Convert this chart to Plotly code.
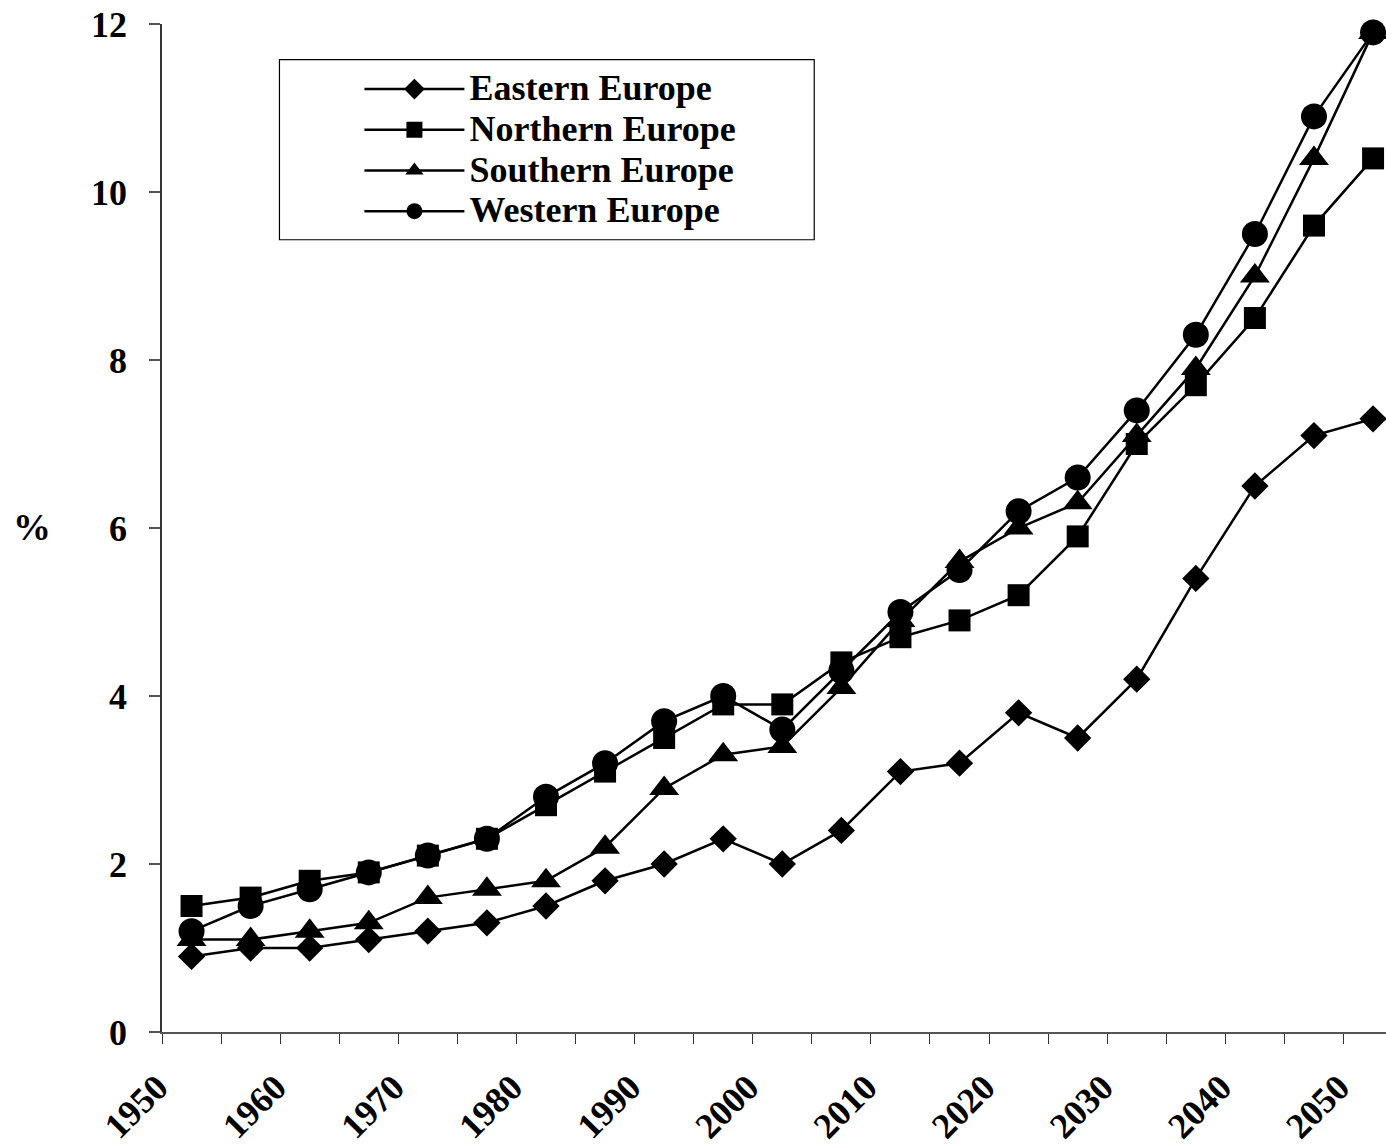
import plotly.graph_objects as go

# Share of population aged 80+ (%), five-year steps 1950-2050
years = [1950, 1955, 1960, 1965, 1970, 1975, 1980, 1985, 1990, 1995, 2000,
         2005, 2010, 2015, 2020, 2025, 2030, 2035, 2040, 2045, 2050]

eastern = [0.9, 1.0, 1.0, 1.1, 1.2, 1.3, 1.5, 1.8, 2.0, 2.3, 2.0,
           2.4, 3.1, 3.2, 3.8, 3.5, 4.2, 5.4, 6.5, 7.1, 7.3]
northern = [1.5, 1.6, 1.8, 1.9, 2.1, 2.3, 2.7, 3.1, 3.5, 3.9, 3.9,
            4.4, 4.7, 4.9, 5.2, 5.9, 7.0, 7.7, 8.5, 9.6, 10.4]
southern = [1.1, 1.1, 1.2, 1.3, 1.6, 1.7, 1.8, 2.2, 2.9, 3.3, 3.4,
            4.1, 4.9, 5.6, 6.0, 6.3, 7.1, 7.9, 9.0, 10.4, 11.9]
western = [1.2, 1.5, 1.7, 1.9, 2.1, 2.3, 2.8, 3.2, 3.7, 4.0, 3.6,
           4.3, 5.0, 5.5, 6.2, 6.6, 7.4, 8.3, 9.5, 10.9, 11.9]

tick_years = [1950, 1960, 1970, 1980, 1990, 2000, 2010, 2020, 2030, 2040, 2050]
y_ticks = [0, 2, 4, 6, 8, 10, 12]

series = [
    ("Eastern Europe", eastern, "diamond", 21),
    ("Northern Europe", northern, "square", 22),
    ("Southern Europe", southern, "triangle-up", 26),
    ("Western Europe", western, "circle", 26),
]

FONT = "Liberation Serif, Times New Roman, serif"

fig = go.Figure()
for name, vals, sym, size in series:
    fig.add_trace(go.Scatter(
        x=years, y=vals, mode="lines+markers",
        # larger label text inside a tighter legend row height
        name='<span style="font-size:36px">' + name + "</span>",
        line=dict(color="black", width=2.5),
        marker=dict(symbol=sym, size=size, color="black",
                    line=dict(width=0)),
        cliponaxis=False,
    ))

W, H = 1386, 1146
L, R, T, B = 161.5, 0, 24.3, 114.3
px_per_year = 59.1 / 5
x0 = 1947.5
x1 = x0 + (W - L - R) / px_per_year

fig.update_layout(
    width=W, height=H,
    margin=dict(l=L, r=R, t=T, b=B, pad=0, autoexpand=False),
    paper_bgcolor="white", plot_bgcolor="white",
    font=dict(family=FONT, color="black"),
    showlegend=True,
    legend=dict(
        x=(359 - L) / (W - L), xanchor="left",
        y=(1032 - 64) / (1032 - T), yanchor="top",
        bgcolor="rgba(0,0,0,0)", borderwidth=0,
        font=dict(family=FONT, size=29, color="black", weight="bold"),
        itemwidth=100, tracegroupgap=0,
    ),
    xaxis=dict(
        range=[x0, x1], automargin=False,
        showgrid=False, zeroline=False,
        showline=True, linecolor="#555", linewidth=1.5,
        tickmode="array", tickvals=tick_years,
        ticktext=[str(t) for t in tick_years],
        ticks="", tickangle=-45,
        tickfont=dict(family=FONT, size=36, weight="bold"),
        ticklabelstandoff=18, ticklabelshift=-34,
        ticklabeloverflow="allow",
        minor=dict(ticks="outside", tick0=1947.5, dtick=5, ticklen=10,
                   tickcolor="#333", tickwidth=1),
    ),
    yaxis=dict(
        range=[0, 12], automargin=False,
        showgrid=False, zeroline=False,
        showline=True, linecolor="#333", linewidth=1.5,
        tickmode="array", tickvals=y_ticks,
        ticks="outside", ticklen=11, tickcolor="#555", tickwidth=1.5,
        tickfont=dict(family=FONT, size=36, weight="bold"),
        ticklabelstandoff=15,
    ),
    annotations=[dict(
        text="<b>%</b>", xref="paper", yref="paper",
        x=-(161.5 - 31) / (W - L), y=0.501, xanchor="center", yanchor="middle",
        showarrow=False, font=dict(family=FONT, size=38, color="black"),
    )],
    shapes=[dict(
        type="rect", xref="paper", yref="paper", layer="below",
        x0=(279 - L) / (W - L), x1=(814 - L) / (W - L),
        y0=(1032 - 240) / (1032 - T), y1=(1032 - 60) / (1032 - T),
        line=dict(color="black", width=1.2), fillcolor="white",
    )],
)

fig.write_html("out.html")
